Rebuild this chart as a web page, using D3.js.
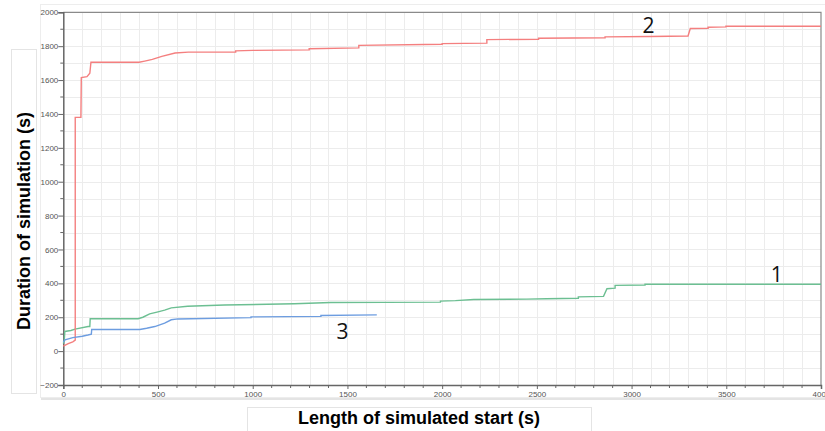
<!DOCTYPE html>
<html>
<head>
<meta charset="utf-8">
<script src="https://cdn.jsdelivr.net/npm/d3@7"></script>
<style>
  body { margin: 0; background: #fff; }
  svg { display: block; }
</style>
</head>
<body>
<div id="chart"></div>
<script>
// series: [length of simulated start, duration]
const series2 = [[0,30],[26,44],[50,55],[63,65],[63,1380],[93,1380],[95,1615],[125,1620],[140,1640],[146,1705],[400,1705],[430,1712],[470,1722],[520,1740],[590,1760],[660,1765],[910,1766],[910,1772],[1000,1775],[1298,1778],[1298,1785],[1560,1790],[1560,1805],[2000,1811],[2000,1815],[2236,1818],[2236,1839],[2509,1841],[2509,1847],[2860,1850],[2860,1855],[3097,1857],[3298,1860],[3310,1904],[3404,1906],[3404,1912],[3498,1914],[3498,1918],[4000,1918]]
const series1 = [[0,45],[5,60],[8,116],[40,122],[62,130],[131,145],[140,145],[142,191],[395,191],[420,200],[456,220],[500,232],[535,242],[570,255],[656,265],[851,272],[1220,280],[1412,287],[1991,289],[1991,295],[2070,298],[2167,305],[2447,307],[2552,309],[2719,312],[2719,320],[2852,323],[2870,368],[2913,372],[2913,388],[3071,390],[3071,395],[4000,395]]
const series3 = [[0,53],[9,67],[50,80],[100,88],[130,95],[148,100],[150,128],[404,128],[440,135],[483,145],[535,165],[570,185],[605,190],[991,198],[991,202],[1360,205],[1360,210],[1655,214]]

const seriesNames = ['1', '2', '3']
const seriesColors = ['#6cbf92', '#f47f7f', '#6d9de0']
// where the curve numbers sit (data units, baseline)
const labelSpots = [[3767, 408], [3090, 1878], [1474, 72]]

const xMajor = [0, 500, 1000, 1500, 2000, 2500, 3000, 3500, 4000]
const yMajor = [-200, 0, 200, 400, 600, 800, 1000, 1200, 1400, 1600, 1800, 2000]
const xTitle = 'Length of simulated start (s)'
const yTitle = 'Duration of simulation (s)'

const w = 825, h = 431
const plotL = 63.3, plotR = 821, plotT = 12.3, plotB = 385

const svg = d3.select('#chart').append('svg')
    .attr('width', w)
    .attr('height', h)

const x = d3.scaleLinear().domain([0, 4000]).range([plotL, plotR])
const y = d3.scaleLinear().domain([-200, 2000]).range([plotB, plotT])

// faint outer frame with a little shadow at the bottom
svg.append('rect')
    .attr('x', 40.5).attr('y', 4.5).attr('width', 790).attr('height', 393)
    .attr('fill', 'none').attr('stroke', '#ededed')
svg.append('line')
    .attr('x1', 41).attr('x2', 825).attr('y1', 399).attr('y2', 399)
    .attr('stroke', '#e4e4e4').attr('stroke-width', 2)

// title boxes
svg.append('rect')
    .attr('x', 11.5).attr('y', 49.5).attr('width', 25).attr('height', 344)
    .attr('fill', '#fff').attr('stroke', '#e4e4e4')
svg.append('rect')
    .attr('x', 247.5).attr('y', 407.5).attr('width', 344).attr('height', 30)
    .attr('fill', '#fff').attr('stroke', '#e4e4e4')

// grid every 100
const xGrid = d3.range(100, 4000, 100)
const yGrid = d3.range(-100, 2000, 100)
svg.append('g').selectAll('line')
    .data(xGrid)
    .enter()
    .append('line')
    .attr('x1', d => Math.round(x(d)) + 0.5).attr('x2', d => Math.round(x(d)) + 0.5)
    .attr('y1', plotT).attr('y2', plotB)
    .attr('stroke', '#ececec')
svg.append('g').selectAll('line')
    .data(yGrid)
    .enter()
    .append('line')
    .attr('y1', d => Math.round(y(d)) + 0.5).attr('y2', d => Math.round(y(d)) + 0.5)
    .attr('x1', plotL).attr('x2', plotR)
    .attr('stroke', '#ececec')

// plot border (top, right)
svg.append('path')
    .attr('d', `M${plotL},${plotT}H${plotR}V${plotB}`)
    .attr('fill', 'none').attr('stroke', '#8a8a8a').attr('stroke-width', 1.2)

// axes
const xAxis = d3.axisBottom(x).tickValues(xMajor).tickSize(4).tickFormat(d3.format('d'))
const yAxis = d3.axisLeft(y).tickValues(yMajor).tickSize(5).tickFormat(d3.format('d'))

const gx = svg.append('g').attr('transform', `translate(0,${plotB})`).call(xAxis)
const gy = svg.append('g').attr('transform', `translate(${plotL},0)`).call(yAxis)

// minor ticks
gx.selectAll('.minor')
    .data(xGrid.filter(d => d % 500 !== 0))
    .enter()
    .append('line')
    .attr('class', 'minor')
    .attr('x1', d => x(d)).attr('x2', d => x(d))
    .attr('y1', 0).attr('y2', 3)
    .attr('stroke', '#666')
gy.selectAll('.minor')
    .data(yGrid.filter(d => d % 200 !== 0))
    .enter()
    .append('line')
    .attr('class', 'minor')
    .attr('y1', d => y(d)).attr('y2', d => y(d))
    .attr('x1', 0).attr('x2', -3)
    .attr('stroke', '#666')

svg.selectAll('.domain').attr('stroke', '#666').attr('stroke-width', 1.5)
svg.selectAll('.tick line').attr('stroke', '#666')
svg.selectAll('.tick text')
    .attr('fill', '#555')
    .style('font-family', 'Liberation Sans, Arial, sans-serif')
    .style('font-size', '8px')
gy.selectAll('.tick text').attr('x', -5)
gx.selectAll('.tick text').attr('y', 6)

// lines
const line = d3.line().x(d => x(d[0])).y(d => y(d[1]))
const allSeries = [series1, series2, series3]

svg.append('g').selectAll('path')
    .data(allSeries)
    .enter()
    .append('path')
    .attr('d', line)
    .attr('fill', 'none')
    .attr('stroke', (d, i) => seriesColors[i])
    .attr('stroke-width', 1.4)

// curve numbers
svg.append('g').selectAll('text')
    .data(seriesNames)
    .enter()
    .append('text')
    .attr('x', (d, i) => x(labelSpots[i][0]))
    .attr('y', (d, i) => y(labelSpots[i][1]))
    .attr('text-anchor', 'middle')
    .style('font-family', 'Open Sans, Liberation Sans, sans-serif')
    .style('font-size', '21px')
    .attr('fill', '#111')
    .text(d => d)

// titles
svg.append('text')
    .attr('x', 419).attr('y', 424)
    .attr('text-anchor', 'middle')
    .style('font-family', 'Liberation Sans, Arial, sans-serif')
    .style('font-size', '18px')
    .style('font-weight', 'bold')
    .text(xTitle)

svg.append('text')
    .attr('transform', 'translate(30,221) rotate(-90)')
    .attr('text-anchor', 'middle')
    .style('font-family', 'Liberation Sans, Arial, sans-serif')
    .style('font-size', '18px')
    .style('font-weight', 'bold')
    .text(yTitle)
</script>
</body>
</html>
